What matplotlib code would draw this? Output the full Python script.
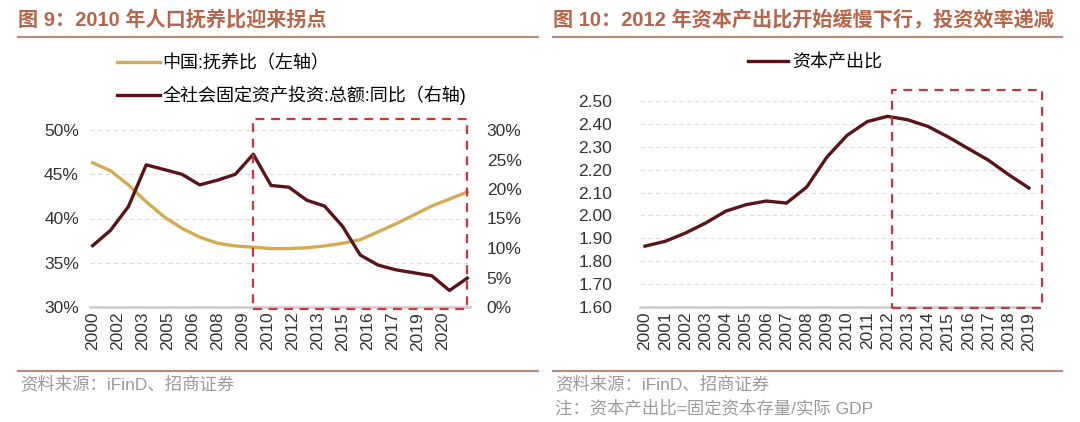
import matplotlib
matplotlib.use("Agg")
import matplotlib.pyplot as plt
from matplotlib.lines import Line2D
from matplotlib.patches import Rectangle
import numpy as np

plt.rcParams['font.family'] = ['Liberation Sans', 'Noto Sans CJK SC', 'DejaVu Sans']

# ---- figure 9: dependency ratio vs fixed asset investment growth ----
years_l = list(range(2000, 2022))
dependency = [46.3, 45.4, 43.8, 41.9, 40.2, 38.9, 37.9, 37.2, 36.9, 36.75, 36.6,
              36.6, 36.7, 36.9, 37.2, 37.6, 38.5, 39.4, 40.4, 41.4, 42.2, 43.0]
fai_growth = [10.4, 13.0, 17.0, 24.1, 23.3, 22.5, 20.7, 21.5, 22.5, 25.9, 20.6,
              20.3, 18.1, 17.1, 13.7, 8.8, 7.1, 6.3, 5.8, 5.3, 2.8, 4.9]
tick_labels_l = ["2000", "2002", "2003", "2005", "2006", "2008", "2009", "2010",
                 "2012", "2013", "2015", "2016", "2017", "2019", "2020"]

# ---- figure 10: capital-output ratio ----
years_r = list(range(2000, 2020))
cap_output = [1.866, 1.887, 1.923, 1.967, 2.019, 2.047, 2.063, 2.054, 2.124, 2.255,
              2.350, 2.410, 2.433, 2.418, 2.389, 2.343, 2.292, 2.241, 2.178, 2.120]

YELLOW = "#D4AA50"
DARK = "#5A1418"
BOX = "#C8363F"
TITLE = "#B5654A"
RULE = "#B98A78"
GRID = "#DCDCDC"
TXT = "#333333"

fig = plt.figure(figsize=(10.8, 4.22), dpi=100)

def px(x, y):
    return x / 1080, 1 - y / 422

def style_axis(ax):
    for s in ["top", "left", "right"]:
        ax.spines[s].set_visible(False)
    ax.spines["bottom"].set_color("#D0D0D0")
    ax.spines["bottom"].set_linewidth(2)
    ax.tick_params(length=0, labelsize=12.5, colors=TXT)
    ax.grid(axis="y", color=GRID, linestyle=(0, (4, 3)), linewidth=0.8)
    ax.set_axisbelow(True)

# left chart
x_l = np.arange(len(years_l))
ax1 = fig.add_axes([90 / 1080, 1 - 307 / 422, 380 / 1080, 177 / 422])
ax2 = ax1.twinx()
style_axis(ax1)
for s in ["top", "left", "right", "bottom"]:
    ax2.spines[s].set_visible(False)
ax2.tick_params(length=0, labelsize=12.5, colors=TXT, pad=12)
ax1.plot(x_l, dependency, color=YELLOW, lw=2.4)
ax2.plot(x_l, fai_growth, color=DARK, lw=2.4)
ax1.set_xlim(-0.15, 21.15)
ax1.set_ylim(30, 50)
ax2.set_ylim(0, 30)
ax1.set_yticks(np.arange(30, 51, 5))
ax1.set_yticklabels([f"{v}%" for v in range(30, 51, 5)])
ax2.set_yticks(np.arange(0, 31, 5))
ax2.set_yticklabels([f"{v}%" for v in range(0, 31, 5)])
ax1.set_xticks(np.linspace(0, 19.6, len(tick_labels_l)))
ax1.set_xticklabels(tick_labels_l, rotation=90, fontsize=12.5)
ax1.tick_params(axis="y", pad=8)
ax2.add_patch(Rectangle((9, -0.3), 12, 32.2, fill=False, ec=BOX, lw=1.6,
                        linestyle=(0, (4, 3)), clip_on=False, zorder=5))

handles = [Line2D([], [], color=YELLOW, lw=2.4), Line2D([], [], color=DARK, lw=2.4)]
fig.legend(handles, ["中国:抚养比（左轴）", "全社会固定资产投资:总额:同比（右轴)"],
           loc="upper left", bbox_to_anchor=px(104, 42), frameon=False, fontsize=13,
           handlelength=2.4, handletextpad=0.15, labelspacing=0.75, borderpad=0.2)

# right chart
x_r = np.arange(len(years_r))
ax3 = fig.add_axes([640 / 1080, 1 - 307 / 422, 398 / 1080, 206 / 422])
style_axis(ax3)
ax3.plot(x_r, cap_output, color=DARK, lw=2.4)
ax3.set_xlim(-0.25, 19.45)
ax3.set_ylim(1.6, 2.5)
ax3.set_yticks(np.round(np.arange(1.6, 2.51, 0.1), 2))
ax3.set_yticklabels([f"{v:.2f}" for v in np.arange(1.6, 2.51, 0.1)])
ax3.tick_params(axis="y", pad=20)
ax3.set_xticks(x_r)
ax3.set_xticklabels([str(y) for y in years_r], rotation=90, fontsize=12.5)
ax3.add_patch(Rectangle((12.2, 1.595), 7.45, 0.953, fill=False, ec=BOX, lw=1.6,
                        linestyle=(0, (4, 3)), clip_on=False, zorder=5))
fig.legend([Line2D([], [], color=DARK, lw=2.4)], ["资本产出比"],
           loc="center", bbox_to_anchor=px(815, 63), frameon=False, fontsize=13,
           handlelength=2.2, handletextpad=0.25)

# titles, rules, sources
fig.text(*px(18, 20), "图 9：2010 年人口抚养比迎来拐点", color=TITLE, fontsize=14.5,
         fontweight="bold", va="center", ha="left")
fig.text(*px(553, 20), "图 10：2012 年资本产出比开始缓慢下行，投资效率递减", color=TITLE,
         fontsize=14.5, fontweight="bold", va="center", ha="left")
for x0, x1 in [(18, 538), (553, 1062)]:
    for yy in (37, 371):
        fig.add_artist(Line2D([x0 / 1080, x1 / 1080], [1 - yy / 422] * 2,
                              color=RULE, lw=1.5))
fig.text(*px(20, 384), "资料来源：iFinD、招商证券", color="#9A9A9A", fontsize=12.5, va="center")
fig.text(*px(555, 384), "资料来源：iFinD、招商证券", color="#9A9A9A", fontsize=12.5, va="center")
fig.text(*px(555, 408), "注：资本产出比=固定资本存量/实际 GDP", color="#9A9A9A",
         fontsize=12.5, va="center")

fig.savefig("out.png", dpi=100)
